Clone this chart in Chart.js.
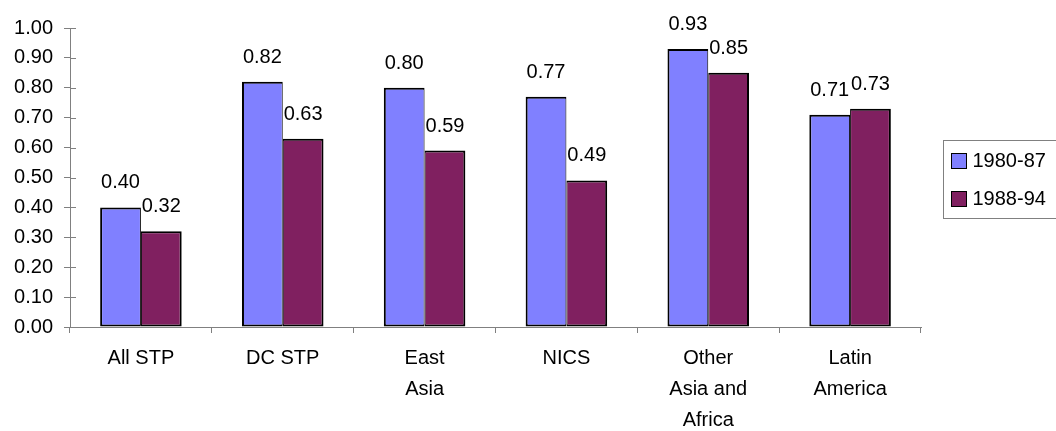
<html>

<head>
  <title>Chart</title>
  <script src="https://cdn.jsdelivr.net/npm/chart.js"></script>
  <style>
    body { margin: 0; background: #fff; }
    #wrap { width: 1056px; height: 431px; position: relative; }
  </style>
</head>

<body>
  <div id="wrap"><canvas id="barChart"></canvas></div>

  <script>
    // data
    const categories = [['All STP'], ['DC STP'], ['East', 'Asia'], ['NICS'], ['Other', 'Asia and', 'Africa'], ['Latin', 'America']];
    const seriesNames = ['1980-87', '1988-94'];
    const values8087 = [0.40, 0.82, 0.80, 0.77, 0.93, 0.71];
    const values8894 = [0.32, 0.63, 0.59, 0.49, 0.85, 0.73];
    const yMin = 0;
    const yMax = 1;
    const yStep = 0.1;

    const fontFamily = "'Liberation Sans', Arial, sans-serif";
    const axisColor = '#808080';

    // value labels above each bar
    const valueLabels = {
      id: 'valueLabels',
      afterDatasetsDraw(chart) {
        const ctx = chart.ctx;
        ctx.save();
        ctx.font = '20px ' + fontFamily;
        ctx.fillStyle = '#000';
        ctx.textAlign = 'center';
        ctx.textBaseline = 'alphabetic';
        chart.data.datasets.forEach((ds, i) => {
          chart.getDatasetMeta(i).data.forEach((bar, j) => {
            ctx.fillText(ds.data[j].toFixed(2), bar.x, bar.y - 19);
          });
        });
        ctx.restore();
      }
    };

    // small inner part of the y ticks (they cross the axis)
    const innerTicks = {
      id: 'innerTicks',
      afterDraw(chart) {
        const ctx = chart.ctx;
        const y = chart.scales.y;
        const x0 = chart.chartArea.left;
        ctx.save();
        ctx.strokeStyle = axisColor;
        ctx.lineWidth = 1;
        y.ticks.forEach(t => {
          const py = Math.round(y.getPixelForValue(t.value)) + 0.5;
          ctx.beginPath();
          ctx.moveTo(x0, py);
          ctx.lineTo(x0 + 6, py);
          ctx.stroke();
        });
        ctx.restore();
      }
    };

    // boxed legend on the right
    const boxLegend = {
      id: 'boxLegend',
      afterDraw(chart) {
        const ctx = chart.ctx;
        const area = chart.chartArea;
        const left = area.right + 22.5;
        const top = 140.5;
        ctx.save();
        ctx.strokeStyle = axisColor;
        ctx.lineWidth = 1;
        ctx.strokeRect(left, top, 130, 78);
        ctx.font = '20px ' + fontFamily;
        ctx.textBaseline = 'middle';
        ctx.textAlign = 'left';
        chart.data.datasets.forEach((ds, i) => {
          const cy = top + 20 + i * 38;
          ctx.fillStyle = ds.backgroundColor;
          ctx.fillRect(left + 8, cy - 7, 15, 15);
          ctx.strokeStyle = '#000';
          ctx.lineWidth = 1;
          ctx.strokeRect(left + 8, cy - 7, 15, 15);
          ctx.fillStyle = '#000';
          ctx.fillText(ds.label, left + 29, cy + 1);
        });
        ctx.restore();
      }
    };

    new Chart(document.getElementById('barChart'), {
      type: 'bar',
      data: {
        labels: categories,
        datasets: [
          {
            label: seriesNames[0],
            data: values8087,
            backgroundColor: '#8080FF',
            borderColor: '#000',
            borderWidth: { left: 2, top: 2, bottom: 2, right: 1 },
            borderSkipped: false,
            categoryPercentage: 0.575,
            barPercentage: 1
          },
          {
            label: seriesNames[1],
            data: values8894,
            backgroundColor: '#802060',
            borderColor: '#000',
            borderWidth: { left: 1, top: 2, bottom: 2, right: 2 },
            borderSkipped: false,
            categoryPercentage: 0.575,
            barPercentage: 1
          }
        ]
      },
      options: {
        responsive: true,
        maintainAspectRatio: false,
        animation: false,
        layout: { padding: { top: 28, right: 135, left: 0, bottom: 0 } },
        plugins: {
          legend: { display: false },
          tooltip: { enabled: false }
        },
        scales: {
          x: {
            grid: { drawOnChartArea: false, drawTicks: true, tickLength: 6, color: axisColor },
            border: { display: true, color: axisColor },
            ticks: {
              color: '#000',
              font: { family: fontFamily, size: 20, lineHeight: 1.55 },
              padding: 10,
              maxRotation: 0,
              autoSkip: false
            },
            afterFit(scale) { scale.height = 104; }
          },
          y: {
            min: yMin,
            max: yMax,
            grid: { drawOnChartArea: false, drawTicks: true, tickLength: 6, color: axisColor },
            border: { display: true, color: axisColor },
            ticks: {
              stepSize: yStep,
              color: '#000',
              font: { family: fontFamily, size: 20 },
              padding: 11,
              callback: v => v.toFixed(2)
            },
            afterFit(scale) { scale.width = 70; }
          }
        }
      },
      plugins: [valueLabels, innerTicks, boxLegend]
    });
  </script>

</body>

</html>
